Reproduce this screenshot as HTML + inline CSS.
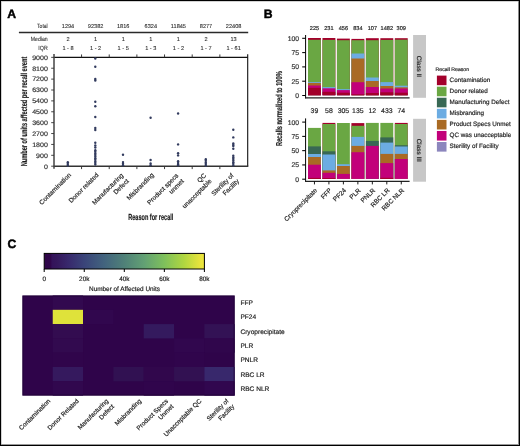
<!DOCTYPE html>
<html><head><meta charset="utf-8"><style>
html,body{margin:0;padding:0;background:#fff;}
#f{position:relative;width:520px;height:446px;box-sizing:border-box;border:1px solid #000;overflow:hidden;background:#fff;}
svg{position:absolute;left:-1px;top:-1px;will-change:transform;}
text{font-family:"Liberation Sans",sans-serif;text-rendering:geometricPrecision;stroke:currentColor;stroke-width:0.18px;}
</style></head><body><div id="f">
<svg width="520" height="446" viewBox="0 0 520 446">
<text x="7.30" y="17.55" font-size="12.2" fill="#000" color="#000" font-weight="bold" style="stroke-width:0.45px">A</text>
<text x="263.80" y="17.55" font-size="12.2" fill="#000" color="#000" font-weight="bold" style="stroke-width:0.45px">B</text>
<text x="7.50" y="248.20" font-size="12.2" fill="#000" color="#000" font-weight="bold" style="stroke-width:0.45px">C</text>
<text x="47.70" y="28.30" font-size="6" text-anchor="end" fill="#2a2a2a" color="#2a2a2a" textLength="10.6" lengthAdjust="spacingAndGlyphs" style="stroke-width:0.08px">Total</text>
<text x="47.70" y="40.70" font-size="6" text-anchor="end" fill="#2a2a2a" color="#2a2a2a" textLength="16.9" lengthAdjust="spacingAndGlyphs" style="stroke-width:0.08px">Median</text>
<text x="47.70" y="49.80" font-size="6" text-anchor="end" fill="#2a2a2a" color="#2a2a2a" textLength="9.4" lengthAdjust="spacingAndGlyphs" style="stroke-width:0.08px">IQR</text>
<text x="68.00" y="28.30" font-size="5.6" text-anchor="middle" fill="#2a2a2a" color="#2a2a2a" style="stroke-width:0.08px">1294</text>
<text x="68.00" y="40.70" font-size="5.6" text-anchor="middle" fill="#2a2a2a" color="#2a2a2a" style="stroke-width:0.08px">2</text>
<text x="68.00" y="49.80" font-size="5.6" text-anchor="middle" fill="#2a2a2a" color="#2a2a2a" style="stroke-width:0.08px">1 - 8</text>
<text x="95.60" y="28.30" font-size="5.6" text-anchor="middle" fill="#2a2a2a" color="#2a2a2a" style="stroke-width:0.08px">92382</text>
<text x="95.60" y="40.70" font-size="5.6" text-anchor="middle" fill="#2a2a2a" color="#2a2a2a" style="stroke-width:0.08px">1</text>
<text x="95.60" y="49.80" font-size="5.6" text-anchor="middle" fill="#2a2a2a" color="#2a2a2a" style="stroke-width:0.08px">1 - 2</text>
<text x="123.20" y="28.30" font-size="5.6" text-anchor="middle" fill="#2a2a2a" color="#2a2a2a" style="stroke-width:0.08px">1816</text>
<text x="123.20" y="40.70" font-size="5.6" text-anchor="middle" fill="#2a2a2a" color="#2a2a2a" style="stroke-width:0.08px">1</text>
<text x="123.20" y="49.80" font-size="5.6" text-anchor="middle" fill="#2a2a2a" color="#2a2a2a" style="stroke-width:0.08px">1 - 5</text>
<text x="150.80" y="28.30" font-size="5.6" text-anchor="middle" fill="#2a2a2a" color="#2a2a2a" style="stroke-width:0.08px">6324</text>
<text x="150.80" y="40.70" font-size="5.6" text-anchor="middle" fill="#2a2a2a" color="#2a2a2a" style="stroke-width:0.08px">1</text>
<text x="150.80" y="49.80" font-size="5.6" text-anchor="middle" fill="#2a2a2a" color="#2a2a2a" style="stroke-width:0.08px">1 - 3</text>
<text x="178.40" y="28.30" font-size="5.6" text-anchor="middle" fill="#2a2a2a" color="#2a2a2a" style="stroke-width:0.08px">11845</text>
<text x="178.40" y="40.70" font-size="5.6" text-anchor="middle" fill="#2a2a2a" color="#2a2a2a" style="stroke-width:0.08px">1</text>
<text x="178.40" y="49.80" font-size="5.6" text-anchor="middle" fill="#2a2a2a" color="#2a2a2a" style="stroke-width:0.08px">1 - 2</text>
<text x="206.00" y="28.30" font-size="5.6" text-anchor="middle" fill="#2a2a2a" color="#2a2a2a" style="stroke-width:0.08px">8277</text>
<text x="206.00" y="40.70" font-size="5.6" text-anchor="middle" fill="#2a2a2a" color="#2a2a2a" style="stroke-width:0.08px">2</text>
<text x="206.00" y="49.80" font-size="5.6" text-anchor="middle" fill="#2a2a2a" color="#2a2a2a" style="stroke-width:0.08px">1 - 7</text>
<text x="233.60" y="28.30" font-size="5.6" text-anchor="middle" fill="#2a2a2a" color="#2a2a2a" style="stroke-width:0.08px">22408</text>
<text x="233.60" y="40.70" font-size="5.6" text-anchor="middle" fill="#2a2a2a" color="#2a2a2a" style="stroke-width:0.08px">13</text>
<text x="233.60" y="49.80" font-size="5.6" text-anchor="middle" fill="#2a2a2a" color="#2a2a2a" style="stroke-width:0.08px">1 - 61</text>
<line x1="18.9" y1="32.5" x2="248.2" y2="32.5" stroke="#2a2a2a" stroke-width="1.3"/>
<line x1="54.0" y1="57.35" x2="247.7" y2="57.35" stroke="#111" stroke-width="1.2"/>
<line x1="247.7" y1="54.35" x2="247.7" y2="166.2" stroke="#111" stroke-width="1.1"/>
<line x1="54.0" y1="166.2" x2="248.29999999999998" y2="166.2" stroke="#333" stroke-width="1.4"/>
<line x1="54.0" y1="54.050000000000004" x2="54.0" y2="168.7" stroke="#444" stroke-width="1.5"/>
<line x1="51.2" y1="166.20" x2="54.0" y2="166.20" stroke="#333" stroke-width="0.9"/>
<text x="47.90" y="168.55" font-size="6.5" text-anchor="end" fill="#333" color="#333" textLength="3.93" lengthAdjust="spacingAndGlyphs">0</text>
<line x1="51.2" y1="155.31" x2="54.0" y2="155.31" stroke="#333" stroke-width="0.9"/>
<text x="47.90" y="157.66" font-size="6.5" text-anchor="end" fill="#333" color="#333" textLength="11.790000000000001" lengthAdjust="spacingAndGlyphs">900</text>
<line x1="51.2" y1="144.43" x2="54.0" y2="144.43" stroke="#333" stroke-width="0.9"/>
<text x="47.90" y="146.78" font-size="6.5" text-anchor="end" fill="#333" color="#333" textLength="15.72" lengthAdjust="spacingAndGlyphs">1800</text>
<line x1="51.2" y1="133.54" x2="54.0" y2="133.54" stroke="#333" stroke-width="0.9"/>
<text x="47.90" y="135.89" font-size="6.5" text-anchor="end" fill="#333" color="#333" textLength="15.72" lengthAdjust="spacingAndGlyphs">2700</text>
<line x1="51.2" y1="122.66" x2="54.0" y2="122.66" stroke="#333" stroke-width="0.9"/>
<text x="47.90" y="125.01" font-size="6.5" text-anchor="end" fill="#333" color="#333" textLength="15.72" lengthAdjust="spacingAndGlyphs">3600</text>
<line x1="51.2" y1="111.77" x2="54.0" y2="111.77" stroke="#333" stroke-width="0.9"/>
<text x="47.90" y="114.12" font-size="6.5" text-anchor="end" fill="#333" color="#333" textLength="15.72" lengthAdjust="spacingAndGlyphs">4500</text>
<line x1="51.2" y1="100.89" x2="54.0" y2="100.89" stroke="#333" stroke-width="0.9"/>
<text x="47.90" y="103.24" font-size="6.5" text-anchor="end" fill="#333" color="#333" textLength="15.72" lengthAdjust="spacingAndGlyphs">5400</text>
<line x1="51.2" y1="90.00" x2="54.0" y2="90.00" stroke="#333" stroke-width="0.9"/>
<text x="47.90" y="92.35" font-size="6.5" text-anchor="end" fill="#333" color="#333" textLength="15.72" lengthAdjust="spacingAndGlyphs">6300</text>
<line x1="51.2" y1="79.12" x2="54.0" y2="79.12" stroke="#333" stroke-width="0.9"/>
<text x="47.90" y="81.47" font-size="6.5" text-anchor="end" fill="#333" color="#333" textLength="15.72" lengthAdjust="spacingAndGlyphs">7200</text>
<line x1="51.2" y1="68.23" x2="54.0" y2="68.23" stroke="#333" stroke-width="0.9"/>
<text x="47.90" y="70.58" font-size="6.5" text-anchor="end" fill="#333" color="#333" textLength="15.72" lengthAdjust="spacingAndGlyphs">8100</text>
<line x1="51.2" y1="57.35" x2="54.0" y2="57.35" stroke="#333" stroke-width="0.9"/>
<text x="47.90" y="59.70" font-size="6.5" text-anchor="end" fill="#333" color="#333" textLength="15.72" lengthAdjust="spacingAndGlyphs">9000</text>
<line x1="81.56" y1="54.45" x2="81.56" y2="57.35" stroke="#333" stroke-width="0.95"/>
<line x1="81.56" y1="166.2" x2="81.56" y2="169.1" stroke="#333" stroke-width="0.95"/>
<line x1="109.22" y1="54.45" x2="109.22" y2="57.35" stroke="#333" stroke-width="0.95"/>
<line x1="109.22" y1="166.2" x2="109.22" y2="169.1" stroke="#333" stroke-width="0.95"/>
<line x1="136.88" y1="54.45" x2="136.88" y2="57.35" stroke="#333" stroke-width="0.95"/>
<line x1="136.88" y1="166.2" x2="136.88" y2="169.1" stroke="#333" stroke-width="0.95"/>
<line x1="164.54" y1="54.45" x2="164.54" y2="57.35" stroke="#333" stroke-width="0.95"/>
<line x1="164.54" y1="166.2" x2="164.54" y2="169.1" stroke="#333" stroke-width="0.95"/>
<line x1="192.20" y1="54.45" x2="192.20" y2="57.35" stroke="#333" stroke-width="0.95"/>
<line x1="192.20" y1="166.2" x2="192.20" y2="169.1" stroke="#333" stroke-width="0.95"/>
<line x1="219.86" y1="54.45" x2="219.86" y2="57.35" stroke="#333" stroke-width="0.95"/>
<line x1="219.86" y1="166.2" x2="219.86" y2="169.1" stroke="#333" stroke-width="0.95"/>
<text x="27.00" y="111.50" font-size="8.7" text-anchor="middle" fill="#1a1a1a" color="#1a1a1a" font-weight="bold" textLength="109.6" lengthAdjust="spacingAndGlyphs" transform="rotate(-90 27.00 111.50)">Number of units affected per recall event</text>
<text x="150.80" y="219.60" font-size="8.8" text-anchor="middle" fill="#1a1a1a" color="#1a1a1a" font-weight="bold" textLength="45.2" lengthAdjust="spacingAndGlyphs">Reason for recall</text>
<circle cx="67.8" cy="162.30" r="1.2" fill="#323b5e"/>
<circle cx="67.8" cy="164.00" r="1.2" fill="#323b5e"/>
<circle cx="67.8" cy="165.50" r="1.2" fill="#323b5e"/>
<circle cx="95.3" cy="58.50" r="1.2" fill="#323b5e"/>
<circle cx="95.3" cy="66.80" r="1.2" fill="#323b5e"/>
<circle cx="95.3" cy="78.90" r="1.2" fill="#323b5e"/>
<circle cx="95.3" cy="80.50" r="1.2" fill="#323b5e"/>
<circle cx="95.3" cy="101.80" r="1.2" fill="#323b5e"/>
<circle cx="95.3" cy="106.20" r="1.2" fill="#323b5e"/>
<circle cx="95.3" cy="117.00" r="1.2" fill="#323b5e"/>
<circle cx="95.3" cy="128.00" r="1.2" fill="#323b5e"/>
<circle cx="95.3" cy="130.00" r="1.2" fill="#323b5e"/>
<circle cx="95.3" cy="142.70" r="1.2" fill="#323b5e"/>
<circle cx="95.3" cy="145.50" r="1.2" fill="#323b5e"/>
<circle cx="95.3" cy="147.50" r="1.2" fill="#323b5e"/>
<circle cx="95.3" cy="150.20" r="1.2" fill="#323b5e"/>
<circle cx="95.3" cy="151.80" r="1.2" fill="#323b5e"/>
<circle cx="95.3" cy="153.40" r="1.2" fill="#323b5e"/>
<circle cx="95.3" cy="155.00" r="1.2" fill="#323b5e"/>
<circle cx="95.3" cy="156.60" r="1.2" fill="#323b5e"/>
<circle cx="95.3" cy="158.20" r="1.2" fill="#323b5e"/>
<circle cx="95.3" cy="159.80" r="1.2" fill="#323b5e"/>
<circle cx="95.3" cy="161.40" r="1.2" fill="#323b5e"/>
<circle cx="95.3" cy="163.00" r="1.2" fill="#323b5e"/>
<circle cx="95.3" cy="164.60" r="1.2" fill="#323b5e"/>
<circle cx="123.0" cy="154.70" r="1.2" fill="#323b5e"/>
<circle cx="123.0" cy="162.10" r="1.2" fill="#323b5e"/>
<circle cx="123.0" cy="163.80" r="1.2" fill="#323b5e"/>
<circle cx="123.0" cy="165.30" r="1.2" fill="#323b5e"/>
<circle cx="150.6" cy="117.80" r="1.2" fill="#323b5e"/>
<circle cx="150.6" cy="160.00" r="1.2" fill="#323b5e"/>
<circle cx="150.6" cy="163.50" r="1.2" fill="#323b5e"/>
<circle cx="150.6" cy="165.30" r="1.2" fill="#323b5e"/>
<circle cx="178.1" cy="113.50" r="1.2" fill="#323b5e"/>
<circle cx="178.1" cy="144.40" r="1.2" fill="#323b5e"/>
<circle cx="178.1" cy="153.30" r="1.2" fill="#323b5e"/>
<circle cx="178.1" cy="155.40" r="1.2" fill="#323b5e"/>
<circle cx="178.1" cy="161.30" r="1.2" fill="#323b5e"/>
<circle cx="178.1" cy="163.00" r="1.2" fill="#323b5e"/>
<circle cx="178.1" cy="164.50" r="1.2" fill="#323b5e"/>
<circle cx="178.1" cy="165.30" r="1.2" fill="#323b5e"/>
<circle cx="205.8" cy="159.20" r="1.2" fill="#323b5e"/>
<circle cx="205.8" cy="160.80" r="1.2" fill="#323b5e"/>
<circle cx="205.8" cy="162.40" r="1.2" fill="#323b5e"/>
<circle cx="205.8" cy="164.00" r="1.2" fill="#323b5e"/>
<circle cx="205.8" cy="165.60" r="1.2" fill="#323b5e"/>
<circle cx="233.3" cy="129.80" r="1.2" fill="#323b5e"/>
<circle cx="233.3" cy="137.40" r="1.2" fill="#323b5e"/>
<circle cx="233.3" cy="143.40" r="1.2" fill="#323b5e"/>
<circle cx="233.3" cy="145.00" r="1.2" fill="#323b5e"/>
<circle cx="233.3" cy="146.10" r="1.2" fill="#323b5e"/>
<circle cx="233.3" cy="148.70" r="1.2" fill="#323b5e"/>
<circle cx="233.3" cy="155.80" r="1.2" fill="#323b5e"/>
<circle cx="233.3" cy="157.40" r="1.2" fill="#323b5e"/>
<circle cx="233.3" cy="159.00" r="1.2" fill="#323b5e"/>
<circle cx="233.3" cy="160.60" r="1.2" fill="#323b5e"/>
<circle cx="233.3" cy="162.20" r="1.2" fill="#323b5e"/>
<circle cx="233.3" cy="163.80" r="1.2" fill="#323b5e"/>
<circle cx="233.3" cy="165.40" r="1.2" fill="#323b5e"/>
<text x="71.50" y="175.50" font-size="6.5" text-anchor="end" fill="#222" color="#222" transform="rotate(-45 71.50 175.50)">Contamination</text>
<text x="99.00" y="175.50" font-size="6.5" text-anchor="end" fill="#222" color="#222" transform="rotate(-45 99.00 175.50)">Donor related</text>
<text x="123.80" y="176.00" font-size="6.5" text-anchor="end" fill="#222" color="#222" transform="rotate(-45 123.80 176.00)">Manufacturing</text>
<text x="129.32" y="181.52" font-size="6.5" text-anchor="end" fill="#222" color="#222" transform="rotate(-45 129.32 181.52)">Defect</text>
<text x="154.30" y="175.50" font-size="6.5" text-anchor="end" fill="#222" color="#222" transform="rotate(-45 154.30 175.50)">Misbranding</text>
<text x="178.90" y="176.00" font-size="6.5" text-anchor="end" fill="#222" color="#222" transform="rotate(-45 178.90 176.00)">Product specs</text>
<text x="184.42" y="181.52" font-size="6.5" text-anchor="end" fill="#222" color="#222" transform="rotate(-45 184.42 181.52)">unmet</text>
<text x="206.60" y="176.00" font-size="6.5" text-anchor="end" fill="#222" color="#222" transform="rotate(-45 206.60 176.00)">QC</text>
<text x="212.12" y="181.52" font-size="6.5" text-anchor="end" fill="#222" color="#222" transform="rotate(-45 212.12 181.52)">unacceptable</text>
<text x="234.10" y="176.00" font-size="6.5" text-anchor="end" fill="#222" color="#222" transform="rotate(-45 234.10 176.00)">Sterility of</text>
<text x="239.62" y="181.52" font-size="6.5" text-anchor="end" fill="#222" color="#222" transform="rotate(-45 239.62 181.52)">Facility</text>
<rect x="308.00" y="38.00" width="12.9" height="57.20" fill="#a3002b"/>
<rect x="308.00" y="39.80" width="12.9" height="55.40" fill="#6aa743"/>
<rect x="308.00" y="82.00" width="12.9" height="13.20" fill="#6cace2"/>
<rect x="308.00" y="82.90" width="12.9" height="12.30" fill="#a96a24"/>
<rect x="308.00" y="85.50" width="12.9" height="9.70" fill="#c2007a"/>
<rect x="308.00" y="87.80" width="12.9" height="7.40" fill="#a3002b"/>
<rect x="322.47" y="38.00" width="12.9" height="57.20" fill="#a3002b"/>
<rect x="322.47" y="39.90" width="12.9" height="55.30" fill="#6aa743"/>
<rect x="322.47" y="87.10" width="12.9" height="8.10" fill="#6cace2"/>
<rect x="322.47" y="88.30" width="12.9" height="6.90" fill="#c2007a"/>
<rect x="322.47" y="91.80" width="12.9" height="3.40" fill="#a3002b"/>
<rect x="336.94" y="38.60" width="12.9" height="56.60" fill="#a3002b"/>
<rect x="336.94" y="40.20" width="12.9" height="55.00" fill="#6aa743"/>
<rect x="336.94" y="89.10" width="12.9" height="6.10" fill="#6cace2"/>
<rect x="336.94" y="90.10" width="12.9" height="5.10" fill="#c2007a"/>
<rect x="336.94" y="92.70" width="12.9" height="2.50" fill="#a3002b"/>
<rect x="351.41" y="38.90" width="12.9" height="56.30" fill="#a3002b"/>
<rect x="351.41" y="40.20" width="12.9" height="55.00" fill="#6aa743"/>
<rect x="351.41" y="53.50" width="12.9" height="41.70" fill="#6cace2"/>
<rect x="351.41" y="58.50" width="12.9" height="36.70" fill="#a96a24"/>
<rect x="351.41" y="82.20" width="12.9" height="13.00" fill="#c2007a"/>
<rect x="351.41" y="94.30" width="12.9" height="0.90" fill="#a3002b"/>
<rect x="365.88" y="38.20" width="12.9" height="57.00" fill="#a3002b"/>
<rect x="365.88" y="40.20" width="12.9" height="55.00" fill="#6aa743"/>
<rect x="365.88" y="77.50" width="12.9" height="17.70" fill="#6cace2"/>
<rect x="365.88" y="81.00" width="12.9" height="14.20" fill="#a96a24"/>
<rect x="365.88" y="87.00" width="12.9" height="8.20" fill="#c2007a"/>
<rect x="365.88" y="93.00" width="12.9" height="2.20" fill="#a3002b"/>
<rect x="380.35" y="38.20" width="12.9" height="57.00" fill="#a3002b"/>
<rect x="380.35" y="39.90" width="12.9" height="55.30" fill="#6aa743"/>
<rect x="380.35" y="82.10" width="12.9" height="13.10" fill="#6cace2"/>
<rect x="380.35" y="86.00" width="12.9" height="9.20" fill="#a96a24"/>
<rect x="380.35" y="88.50" width="12.9" height="6.70" fill="#c2007a"/>
<rect x="380.35" y="92.30" width="12.9" height="2.90" fill="#a3002b"/>
<rect x="394.82" y="38.20" width="12.9" height="57.00" fill="#a3002b"/>
<rect x="394.82" y="39.70" width="12.9" height="55.50" fill="#6aa743"/>
<rect x="394.82" y="85.70" width="12.9" height="9.50" fill="#6cace2"/>
<rect x="394.82" y="87.30" width="12.9" height="7.90" fill="#a96a24"/>
<rect x="394.82" y="88.50" width="12.9" height="6.70" fill="#c2007a"/>
<rect x="394.82" y="92.70" width="12.9" height="2.50" fill="#a3002b"/>
<rect x="308.00" y="127.90" width="12.9" height="51.00" fill="#6aa743"/>
<rect x="308.00" y="146.40" width="12.9" height="32.50" fill="#386854"/>
<rect x="308.00" y="154.00" width="12.9" height="24.90" fill="#6cace2"/>
<rect x="308.00" y="157.00" width="12.9" height="21.90" fill="#a96a24"/>
<rect x="308.00" y="164.70" width="12.9" height="14.20" fill="#c2007a"/>
<rect x="308.00" y="177.90" width="12.9" height="1.00" fill="#a3002b"/>
<rect x="322.47" y="122.90" width="12.9" height="56.00" fill="#a3002b"/>
<rect x="322.47" y="124.00" width="12.9" height="54.90" fill="#6aa743"/>
<rect x="322.47" y="151.30" width="12.9" height="27.60" fill="#386854"/>
<rect x="322.47" y="154.50" width="12.9" height="24.40" fill="#6cace2"/>
<rect x="322.47" y="170.40" width="12.9" height="8.50" fill="#a96a24"/>
<rect x="322.47" y="172.80" width="12.9" height="6.10" fill="#c2007a"/>
<rect x="322.47" y="178.00" width="12.9" height="0.90" fill="#a3002b"/>
<rect x="336.94" y="123.00" width="12.9" height="55.90" fill="#6aa743"/>
<rect x="336.94" y="164.20" width="12.9" height="14.70" fill="#6cace2"/>
<rect x="336.94" y="166.00" width="12.9" height="12.90" fill="#a96a24"/>
<rect x="336.94" y="173.90" width="12.9" height="5.00" fill="#c2007a"/>
<rect x="351.41" y="123.10" width="12.9" height="55.80" fill="#a3002b"/>
<rect x="351.41" y="125.80" width="12.9" height="53.10" fill="#6aa743"/>
<rect x="351.41" y="136.90" width="12.9" height="42.00" fill="#6cace2"/>
<rect x="351.41" y="145.90" width="12.9" height="33.00" fill="#a96a24"/>
<rect x="351.41" y="152.20" width="12.9" height="26.70" fill="#c2007a"/>
<rect x="365.88" y="122.90" width="12.9" height="56.00" fill="#6aa743"/>
<rect x="365.88" y="140.90" width="12.9" height="38.00" fill="#386854"/>
<rect x="365.88" y="145.90" width="12.9" height="33.00" fill="#c2007a"/>
<rect x="380.35" y="122.90" width="12.9" height="56.00" fill="#6aa743"/>
<rect x="380.35" y="137.40" width="12.9" height="41.50" fill="#386854"/>
<rect x="380.35" y="142.60" width="12.9" height="36.30" fill="#6cace2"/>
<rect x="380.35" y="153.90" width="12.9" height="25.00" fill="#a96a24"/>
<rect x="380.35" y="163.10" width="12.9" height="15.80" fill="#c2007a"/>
<rect x="380.35" y="177.80" width="12.9" height="1.10" fill="#a3002b"/>
<rect x="394.82" y="122.90" width="12.9" height="56.00" fill="#a3002b"/>
<rect x="394.82" y="124.00" width="12.9" height="54.90" fill="#6aa743"/>
<rect x="394.82" y="145.20" width="12.9" height="33.70" fill="#386854"/>
<rect x="394.82" y="146.50" width="12.9" height="32.40" fill="#6cace2"/>
<rect x="394.82" y="153.90" width="12.9" height="25.00" fill="#a96a24"/>
<rect x="394.82" y="159.00" width="12.9" height="19.90" fill="#c2007a"/>
<line x1="305.6" y1="35.0" x2="305.6" y2="98.4" stroke="#000" stroke-width="1"/>
<line x1="305.1" y1="97.9" x2="409.6" y2="97.9" stroke="#222" stroke-width="1.1"/>
<line x1="302.2" y1="95.50" x2="305.6" y2="95.50" stroke="#000" stroke-width="1.05"/>
<text x="299.00" y="97.95" font-size="6.8" text-anchor="end" fill="#333" color="#333">0</text>
<line x1="302.2" y1="81.20" x2="305.6" y2="81.20" stroke="#000" stroke-width="1.05"/>
<text x="299.00" y="83.65" font-size="6.8" text-anchor="end" fill="#333" color="#333">25</text>
<line x1="302.2" y1="66.90" x2="305.6" y2="66.90" stroke="#000" stroke-width="1.05"/>
<text x="299.00" y="69.35" font-size="6.8" text-anchor="end" fill="#333" color="#333">50</text>
<line x1="302.2" y1="52.60" x2="305.6" y2="52.60" stroke="#000" stroke-width="1.05"/>
<text x="299.00" y="55.05" font-size="6.8" text-anchor="end" fill="#333" color="#333">75</text>
<line x1="302.2" y1="38.30" x2="305.6" y2="38.30" stroke="#000" stroke-width="1.05"/>
<text x="299.00" y="40.75" font-size="6.8" text-anchor="end" fill="#333" color="#333">100</text>
<line x1="305.6" y1="118.4" x2="305.6" y2="181.9" stroke="#000" stroke-width="1"/>
<line x1="305.1" y1="181.4" x2="409.6" y2="181.4" stroke="#222" stroke-width="1.1"/>
<line x1="302.2" y1="179.20" x2="305.6" y2="179.20" stroke="#000" stroke-width="1.05"/>
<text x="299.00" y="181.65" font-size="6.8" text-anchor="end" fill="#333" color="#333">0</text>
<line x1="302.2" y1="164.93" x2="305.6" y2="164.93" stroke="#000" stroke-width="1.05"/>
<text x="299.00" y="167.38" font-size="6.8" text-anchor="end" fill="#333" color="#333">25</text>
<line x1="302.2" y1="150.65" x2="305.6" y2="150.65" stroke="#000" stroke-width="1.05"/>
<text x="299.00" y="153.10" font-size="6.8" text-anchor="end" fill="#333" color="#333">50</text>
<line x1="302.2" y1="136.38" x2="305.6" y2="136.38" stroke="#000" stroke-width="1.05"/>
<text x="299.00" y="138.82" font-size="6.8" text-anchor="end" fill="#333" color="#333">75</text>
<line x1="302.2" y1="122.10" x2="305.6" y2="122.10" stroke="#000" stroke-width="1.05"/>
<text x="299.00" y="124.55" font-size="6.8" text-anchor="end" fill="#333" color="#333">100</text>
<line x1="314.45" y1="181.4" x2="314.45" y2="184.4" stroke="#000" stroke-width="0.9"/>
<line x1="328.92" y1="181.4" x2="328.92" y2="184.4" stroke="#000" stroke-width="0.9"/>
<line x1="343.39" y1="181.4" x2="343.39" y2="184.4" stroke="#000" stroke-width="0.9"/>
<line x1="357.86" y1="181.4" x2="357.86" y2="184.4" stroke="#000" stroke-width="0.9"/>
<line x1="372.33" y1="181.4" x2="372.33" y2="184.4" stroke="#000" stroke-width="0.9"/>
<line x1="386.80" y1="181.4" x2="386.80" y2="184.4" stroke="#000" stroke-width="0.9"/>
<line x1="401.27" y1="181.4" x2="401.27" y2="184.4" stroke="#000" stroke-width="0.9"/>
<text x="314.45" y="30.00" font-size="5.6" text-anchor="middle" fill="#262626" color="#262626">225</text>
<text x="314.45" y="113.30" font-size="6.9" text-anchor="middle" fill="#262626" color="#262626">39</text>
<text x="328.92" y="30.00" font-size="5.6" text-anchor="middle" fill="#262626" color="#262626">231</text>
<text x="328.92" y="113.30" font-size="6.9" text-anchor="middle" fill="#262626" color="#262626">58</text>
<text x="343.39" y="30.00" font-size="5.6" text-anchor="middle" fill="#262626" color="#262626">456</text>
<text x="343.39" y="113.30" font-size="6.9" text-anchor="middle" fill="#262626" color="#262626">305</text>
<text x="357.86" y="30.00" font-size="5.6" text-anchor="middle" fill="#262626" color="#262626">834</text>
<text x="357.86" y="113.30" font-size="6.9" text-anchor="middle" fill="#262626" color="#262626">135</text>
<text x="372.33" y="30.00" font-size="5.6" text-anchor="middle" fill="#262626" color="#262626">107</text>
<text x="372.33" y="113.30" font-size="6.9" text-anchor="middle" fill="#262626" color="#262626">12</text>
<text x="386.80" y="30.00" font-size="5.6" text-anchor="middle" fill="#262626" color="#262626">1482</text>
<text x="386.80" y="113.30" font-size="6.9" text-anchor="middle" fill="#262626" color="#262626">433</text>
<text x="401.27" y="30.00" font-size="5.6" text-anchor="middle" fill="#262626" color="#262626">309</text>
<text x="401.27" y="113.30" font-size="6.9" text-anchor="middle" fill="#262626" color="#262626">74</text>
<rect x="413.1" y="35.0" width="12.9" height="62.8" fill="#c7c7c7"/>
<rect x="413.1" y="118.8" width="12.9" height="62.9" fill="#c7c7c7"/>
<text x="417.40" y="66.50" font-size="6.4" text-anchor="middle" fill="#262626" color="#262626" transform="rotate(90 417.40 66.50)">Class II</text>
<text x="417.40" y="150.30" font-size="6.4" text-anchor="middle" fill="#262626" color="#262626" transform="rotate(90 417.40 150.30)">Class III</text>
<text x="282.30" y="108.60" font-size="8.6" text-anchor="middle" fill="#1a1a1a" color="#1a1a1a" font-weight="bold" textLength="74.7" lengthAdjust="spacingAndGlyphs" transform="rotate(-90 282.30 108.60)">Recalls normalized to 100%</text>
<text x="317.65" y="190.80" font-size="6.5" text-anchor="end" fill="#222" color="#222" transform="rotate(-45 317.65 190.80)">Cryoprecipitate</text>
<text x="332.12" y="190.80" font-size="6.5" text-anchor="end" fill="#222" color="#222" transform="rotate(-45 332.12 190.80)">FFP</text>
<text x="346.59" y="190.80" font-size="6.5" text-anchor="end" fill="#222" color="#222" transform="rotate(-45 346.59 190.80)">PF24</text>
<text x="361.06" y="190.80" font-size="6.5" text-anchor="end" fill="#222" color="#222" transform="rotate(-45 361.06 190.80)">PLR</text>
<text x="375.53" y="190.80" font-size="6.5" text-anchor="end" fill="#222" color="#222" transform="rotate(-45 375.53 190.80)">PNLR</text>
<text x="390.00" y="190.80" font-size="6.5" text-anchor="end" fill="#222" color="#222" transform="rotate(-45 390.00 190.80)">RBC LR</text>
<text x="404.47" y="190.80" font-size="6.5" text-anchor="end" fill="#222" color="#222" transform="rotate(-45 404.47 190.80)">RBC NLR</text>
<text x="435.60" y="71.10" font-size="5.15" fill="#222" color="#222">Recall Reason</text>
<rect x="436.9" y="75.60" width="9.6" height="9.6" fill="#a3002b"/>
<text x="449.60" y="81.80" font-size="6.3" fill="#222" color="#222">Contamination</text>
<rect x="436.9" y="86.67" width="9.6" height="9.6" fill="#6aa743"/>
<text x="449.60" y="92.87" font-size="6.3" fill="#222" color="#222">Donor related</text>
<rect x="436.9" y="97.74" width="9.6" height="9.6" fill="#386854"/>
<text x="449.60" y="103.94" font-size="6.3" fill="#222" color="#222">Manufacturing Defect</text>
<rect x="436.9" y="108.81" width="9.6" height="9.6" fill="#6cace2"/>
<text x="449.60" y="115.01" font-size="6.3" fill="#222" color="#222">Misbranding</text>
<rect x="436.9" y="119.88" width="9.6" height="9.6" fill="#a96a24"/>
<text x="449.60" y="126.08" font-size="6.3" fill="#222" color="#222">Product Specs Unmet</text>
<rect x="436.9" y="130.95" width="9.6" height="9.6" fill="#c2007a"/>
<text x="449.60" y="137.15" font-size="6.3" fill="#222" color="#222">QC was unacceptable</text>
<rect x="436.9" y="142.02" width="9.6" height="9.6" fill="#8c86bd"/>
<text x="449.60" y="148.22" font-size="6.3" fill="#222" color="#222">Sterility of Facility</text>
<defs><linearGradient id="vir" x1="0" x2="1" y1="0" y2="0"><stop offset="0" stop-color="#2f0649"/><stop offset="0.04" stop-color="#30074b"/><stop offset="0.05" stop-color="#34135a"/><stop offset="0.08" stop-color="#35185c"/><stop offset="0.149" stop-color="#38286c"/><stop offset="0.25" stop-color="#3a4479"/><stop offset="0.373" stop-color="#42637e"/><stop offset="0.498" stop-color="#4f8078"/><stop offset="0.623" stop-color="#62a074"/><stop offset="0.748" stop-color="#7ec05c"/><stop offset="0.873" stop-color="#b0d640"/><stop offset="0.979" stop-color="#eae43c"/><stop offset="1" stop-color="#ece53c"/></linearGradient></defs>
<rect x="44.2" y="253.4" width="160.2" height="15.6" fill="url(#vir)" stroke="#000" stroke-width="1"/>
<line x1="44.20" y1="269" x2="44.20" y2="272" stroke="#000" stroke-width="1"/>
<text x="44.20" y="281.30" font-size="6.4" text-anchor="middle" fill="#222" color="#222">0</text>
<line x1="84.25" y1="269" x2="84.25" y2="272" stroke="#000" stroke-width="1"/>
<text x="84.25" y="281.30" font-size="6.4" text-anchor="middle" fill="#222" color="#222">20k</text>
<line x1="124.30" y1="269" x2="124.30" y2="272" stroke="#000" stroke-width="1"/>
<text x="124.30" y="281.30" font-size="6.4" text-anchor="middle" fill="#222" color="#222">40k</text>
<line x1="164.35" y1="269" x2="164.35" y2="272" stroke="#000" stroke-width="1"/>
<text x="164.35" y="281.30" font-size="6.4" text-anchor="middle" fill="#222" color="#222">60k</text>
<line x1="204.40" y1="269" x2="204.40" y2="272" stroke="#000" stroke-width="1"/>
<text x="204.40" y="281.30" font-size="6.4" text-anchor="middle" fill="#222" color="#222">80k</text>
<text x="124.50" y="291.30" font-size="6.4" text-anchor="middle" fill="#222" color="#222">Number of Affected Units</text>
<rect x="22.4" y="295.5" width="212.30" height="100.10" fill="#2f044a"/>
<rect x="52.73" y="295.50" width="30.33" height="14.30" fill="#32094f"/>
<rect x="52.73" y="309.80" width="30.33" height="14.30" fill="#dfe23a"/>
<rect x="83.06" y="309.80" width="30.33" height="14.30" fill="#31074e"/>
<rect x="52.73" y="324.10" width="30.33" height="14.30" fill="#330c50"/>
<rect x="143.71" y="324.10" width="30.33" height="14.30" fill="#341a5e"/>
<rect x="204.37" y="324.10" width="30.33" height="14.30" fill="#331255"/>
<rect x="52.73" y="338.40" width="30.33" height="14.30" fill="#320a4f"/>
<rect x="174.04" y="338.40" width="30.33" height="14.30" fill="#31074e"/>
<rect x="204.37" y="338.40" width="30.33" height="14.30" fill="#30064c"/>
<rect x="52.73" y="352.70" width="30.33" height="14.30" fill="#30054b"/>
<rect x="174.04" y="352.70" width="30.33" height="14.30" fill="#30054c"/>
<rect x="52.73" y="367.00" width="30.33" height="14.30" fill="#35195e"/>
<rect x="113.39" y="367.00" width="30.33" height="14.30" fill="#311152"/>
<rect x="143.71" y="367.00" width="30.33" height="14.30" fill="#31074c"/>
<rect x="174.04" y="367.00" width="30.33" height="14.30" fill="#321152"/>
<rect x="204.37" y="367.00" width="30.33" height="14.30" fill="#38286c"/>
<rect x="52.73" y="381.30" width="30.33" height="14.30" fill="#31084e"/>
<rect x="143.71" y="381.30" width="30.33" height="14.30" fill="#30054c"/>
<rect x="204.37" y="381.30" width="30.33" height="14.30" fill="#31074f"/>
<rect x="23.00" y="296.10" width="211.10" height="98.90" fill="none" stroke="#1e0434" stroke-opacity="0.75" stroke-width="1"/>
<text x="240.40" y="305.05" font-size="6.6" fill="#222" color="#222">FFP</text>
<text x="240.40" y="319.35" font-size="6.6" fill="#222" color="#222">PF24</text>
<text x="240.40" y="333.65" font-size="6.6" fill="#222" color="#222">Cryoprecipitate</text>
<text x="240.40" y="347.95" font-size="6.6" fill="#222" color="#222">PLR</text>
<text x="240.40" y="362.25" font-size="6.6" fill="#222" color="#222">PNLR</text>
<text x="240.40" y="376.55" font-size="6.6" fill="#222" color="#222">RBC LR</text>
<text x="240.40" y="390.85" font-size="6.6" fill="#222" color="#222">RBC NLR</text>
<text x="50.76" y="401.40" font-size="6.4" text-anchor="end" fill="#222" color="#222" transform="rotate(-45 50.76 401.40)">Contamination</text>
<text x="79.19" y="401.40" font-size="6.4" text-anchor="end" fill="#222" color="#222" transform="rotate(-45 79.19 401.40)">Donor Related</text>
<text x="108.82" y="401.40" font-size="6.4" text-anchor="end" fill="#222" color="#222" transform="rotate(-45 108.82 401.40)">Manufacturing</text>
<text x="114.48" y="407.06" font-size="6.4" text-anchor="end" fill="#222" color="#222" transform="rotate(-45 114.48 407.06)">Defect</text>
<text x="141.75" y="401.40" font-size="6.4" text-anchor="end" fill="#222" color="#222" transform="rotate(-45 141.75 401.40)">Misbranding</text>
<text x="168.48" y="401.40" font-size="6.4" text-anchor="end" fill="#222" color="#222" transform="rotate(-45 168.48 401.40)">Product Specs</text>
<text x="174.13" y="407.06" font-size="6.4" text-anchor="end" fill="#222" color="#222" transform="rotate(-45 174.13 407.06)">Unmet</text>
<text x="201.91" y="401.40" font-size="6.4" text-anchor="end" fill="#222" color="#222" transform="rotate(-45 201.91 401.40)">Unacceptable QC</text>
<text x="229.14" y="401.40" font-size="6.4" text-anchor="end" fill="#222" color="#222" transform="rotate(-45 229.14 401.40)">Sterility of</text>
<text x="234.79" y="407.06" font-size="6.4" text-anchor="end" fill="#222" color="#222" transform="rotate(-45 234.79 407.06)">Facility</text>
<rect x="1" y="1" width="0.8" height="444" fill="#c8c8c8"/>
<rect x="1" y="1" width="518" height="0.8" fill="#c8c8c8"/>
<rect x="518" y="1" width="1" height="444" fill="#8a8a8a"/>
<rect x="1" y="444" width="518" height="1" fill="#999"/>
</svg></div></body></html>
